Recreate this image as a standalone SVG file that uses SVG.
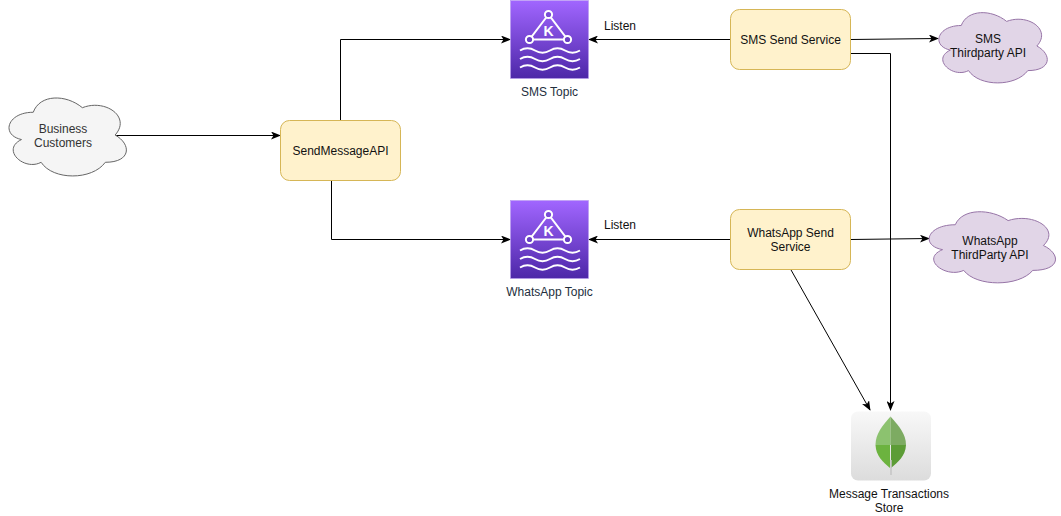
<svg xmlns="http://www.w3.org/2000/svg" xmlns:xlink="http://www.w3.org/1999/xlink" width="1061" height="516" viewBox="0 0 1061 516">
<style>
text{font-family:"Liberation Sans",Arial,sans-serif;font-size:12px;text-anchor:middle;fill:#111}
.svc{fill:#fff2cc;stroke:#d6b656;stroke-width:1}
.cp{stroke-width:1;vector-effect:non-scaling-stroke}
.gray{fill:#f5f5f5;stroke:#666}
.purple{fill:#e1d5e7;stroke:#9673a6}
.edge{fill:none;stroke:#000;stroke-width:1}
.ink{fill:none;stroke:#fff;stroke-width:2}
.lbl{fill:#232f3e}
</style>
<defs>
<marker id="arr" viewBox="0 0 10 8" refX="9" refY="4" markerWidth="10" markerHeight="8" markerUnits="userSpaceOnUse" orient="auto"><path d="M0 0L10 4L0 8L2.5 4Z" fill="#000"/></marker>
<linearGradient id="kafka" x1="0" y1="1" x2="0" y2="0"><stop offset="0" stop-color="#4d27a8"/><stop offset="1" stop-color="#a166ff"/></linearGradient>
<linearGradient id="tile" x1="0" y1="0" x2="0" y2="1"><stop offset="0" stop-color="#f8f8f8"/><stop offset="1" stop-color="#dcdcdc"/></linearGradient>
<path id="cl" class="cp" d="M.25 .25C.05 .25 0 .5 .16 .55C0 .66 .18 .9 .31 .8C.4 1 .7 1 .8 .8C1 .8 1 .6 .875 .5C1 .3 .8 .1 .625 .2C.5 .05 .3 .05 .25 .25Z"/>
<g id="k">
<rect width="78" height="78" fill="url(#kafka)" stroke="#b99bf0" stroke-width="0.6"/>
<path class="ink" d="M38 14L19 39H57Z"/>
<circle cx="38" cy="14" r="3.600" fill="#7a4cd6" stroke="#fff" stroke-width="2"/>
<circle cx="19" cy="39" r="3.600" fill="#6a3fc4" stroke="#fff" stroke-width="2"/>
<circle cx="57" cy="39" r="3.600" fill="#6a3fc4" stroke="#fff" stroke-width="2"/>
<text x="38" y="35" style="font-size:14px;font-weight:bold;fill:#fff">K</text>
<path class="ink" d="M9.500 50c5-3 10-3 15 0s10 3 15 0s10-3 15 0s10 3 15 0M9.500 58.500c5-3 10-3 15 0s10 3 15 0s10-3 15 0s10 3 15 0M9.500 67c5-3 10-3 15 0s10 3 15 0s10-3 15 0s10 3 15 0"/>
</g>
</defs>
<g id="connectors">
<path class="edge" marker-end="url(#arr)" d="M115 135.500H280"/>
<path class="edge" marker-end="url(#arr)" d="M340.500 120V39.500H510"/>
<path class="edge" marker-end="url(#arr)" d="M331.500 180V239.500H510"/>
<path class="edge" marker-end="url(#arr)" d="M730 39.500H589"/>
<path class="edge" marker-end="url(#arr)" d="M730 239.500H589"/>
<path class="edge" marker-end="url(#arr)" d="M851 39.500L938 38.500"/>
<path class="edge" marker-end="url(#arr)" d="M851 239.500L929 238.500"/>
<path class="edge" marker-end="url(#arr)" d="M851 53.500H890.500V410"/>
<path class="edge" marker-end="url(#arr)" d="M790.500 269L870 410"/>
<text x="620" y="30">Listen</text>
<text x="620" y="229">Listen</text>
</g>
<g id="business-customers">
<use xlink:href="#cl" href="#cl" class="gray" transform="translate(0.500,89.500) scale(131,91)"/>
<text style="fill:#333" x="63" y="133">Business</text><text style="fill:#333" x="63" y="147">Customers</text>
</g>
<g id="send-message-api">
<rect class="svc" x="280.500" y="120.500" width="120" height="60" rx="9"/>
<text x="340.500" y="155">SendMessageAPI</text>
</g>
<g id="sms-topic">
<use xlink:href="#k" href="#k" x="510.500" y="0.500"/>
<text class="lbl" x="549.500" y="96">SMS Topic</text>
</g>
<g id="whatsapp-topic">
<use xlink:href="#k" href="#k" x="510.500" y="200.500"/>
<text class="lbl" x="549.500" y="296">WhatsApp Topic</text>
</g>
<g id="sms-send-service">
<rect class="svc" x="730.500" y="9.500" width="120" height="60" rx="9"/>
<text x="790.500" y="44">SMS Send Service</text>
</g>
<g id="whatsapp-send-service">
<rect class="svc" x="730.500" y="209.500" width="120" height="60" rx="9"/>
<text x="790.500" y="237">WhatsApp Send</text><text x="790.500" y="251">Service</text>
</g>
<g id="sms-thirdparty-api">
<use xlink:href="#cl" href="#cl" class="purple" transform="translate(931,5) scale(121,82)"/>
<text x="988" y="43">SMS</text><text x="988" y="57">Thirdparty API</text>
</g>
<g id="whatsapp-thirdparty-api">
<use xlink:href="#cl" href="#cl" class="purple" transform="translate(920,204) scale(141,83)"/>
<text x="990" y="245">WhatsApp</text><text x="990" y="259">ThirdParty API</text>
</g>
<g id="message-transactions-store">
<rect x="851" y="411.500" width="80" height="69" rx="7" fill="url(#tile)"/>
<path d="M890.500 416.500C882 426 875.500 434 875.500 445H890.500Z" fill="#8cc26f"/>
<path d="M890.500 416.500C899 426 906 434 906 445H890.500Z" fill="#7dab62"/>
<path d="M875.500 445C876 456 883 462 890 468V445Z" fill="#6cb33f"/>
<path d="M906 445C905.500 456 898 462 891 468V445H890.500Z" fill="#5c9c36"/>
<path d="M891 460V475" stroke="#c4c4c4" stroke-width="1.500"/>
<text x="889" y="498">Message Transactions</text><text x="889" y="512">Store</text>
</g>
</svg>
